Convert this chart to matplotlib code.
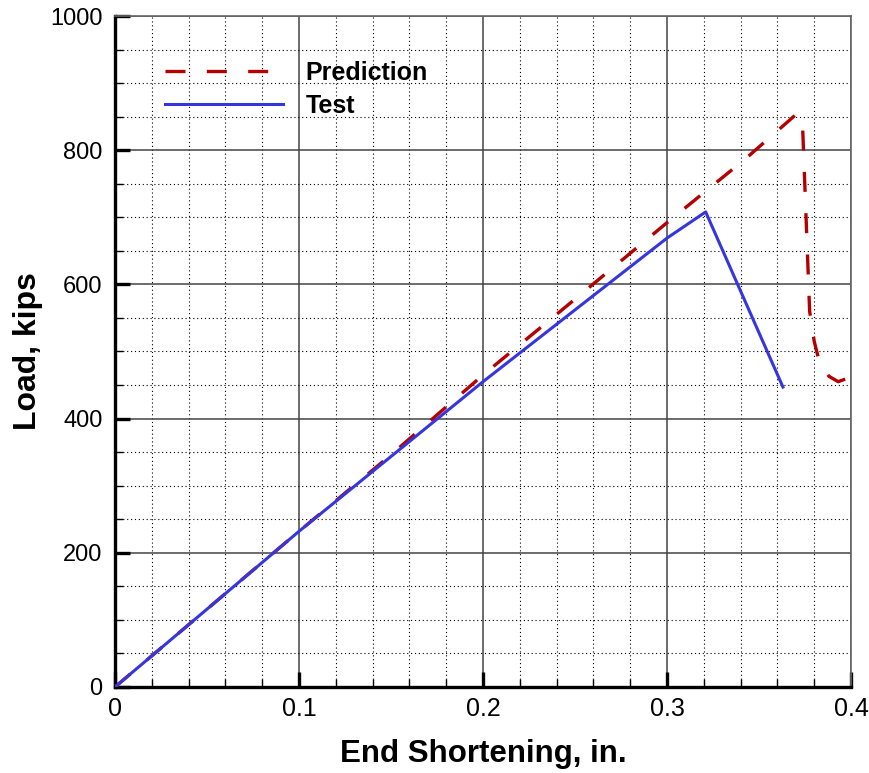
import matplotlib.pyplot as plt
from matplotlib.ticker import MultipleLocator

plt.rcParams['font.family'] = ['Liberation Sans', 'DejaVu Sans']

# end shortening (in.) vs load (kips)
pred_x = [0.0, 0.10, 0.15, 0.20, 0.25, 0.30, 0.343, 0.370, 0.3735, 0.3775,
          0.380, 0.383, 0.388, 0.393, 0.398, 0.400]
pred_y = [0, 232, 346, 465, 578, 692, 788, 853, 848, 560,
          515, 482, 463, 455, 460, 462]

test_x = [0.0, 0.10, 0.20, 0.30, 0.321, 0.363]
test_y = [0, 232, 455, 669, 708, 447]

xticks = [0, 0.1, 0.2, 0.3, 0.4]
xtick_labels = ['0', '0.1', '0.2', '0.3', '0.4']
yticks = [0, 200, 400, 600, 800, 1000]

fig = plt.figure(figsize=(8.7, 7.73), dpi=100)
ax = fig.add_axes([0.1322, 0.1113, 0.8460, 0.8680])

ax.plot(pred_x, pred_y, color='#b40000', lw=2.4, linestyle=(0, (6.0, 6.4)),
        label='Prediction', zorder=3)
ax.plot(test_x, test_y, color='#3636e0', lw=2.2, label='Test', zorder=4)

ax.set_xlim(0, 0.4)
ax.set_ylim(0, 1000)
ax.set_xticks(xticks)
ax.set_xticklabels(xtick_labels)
ax.set_yticks(yticks)
ax.xaxis.set_minor_locator(MultipleLocator(0.02))
ax.yaxis.set_minor_locator(MultipleLocator(50))

ax.grid(which='major', color='#444444', lw=1.1, linestyle='-')
ax.grid(which='minor', color='black', lw=0.8, linestyle=(0, (1, 2.5)))
ax.set_axisbelow(True)

ax.tick_params(which='major', direction='in', length=11, width=2.4,
               top=False, right=False)
ax.tick_params(which='minor', direction='in', length=6, width=1.0,
               top=False, right=False)
ax.tick_params(axis='x', which='major', labelsize=18, pad=7)
ax.tick_params(axis='y', which='major', labelsize=17, pad=9)

for side in ['left', 'bottom']:
    ax.spines[side].set_linewidth(2.4)
    ax.spines[side].set_color('black')
for side in ['top', 'right']:
    ax.spines[side].set_linewidth(1.2)
    ax.spines[side].set_color('#666666')

ax.set_xlabel('End Shortening, in.', fontsize=22.5, fontweight='bold')
ax.set_ylabel('Load, kips', fontsize=23, fontweight='bold')
ax.xaxis.set_label_coords(0.5, -0.077)
ax.yaxis.set_label_coords(-0.098, 0.5)

leg = ax.legend(loc='upper left', bbox_to_anchor=(0.055, 0.948), frameon=False,
                prop={'weight': 'bold', 'size': 18},
                handlelength=4.7, handletextpad=0.9, labelspacing=0.35,
                borderaxespad=0)

fig.savefig('out.png', dpi=100)
